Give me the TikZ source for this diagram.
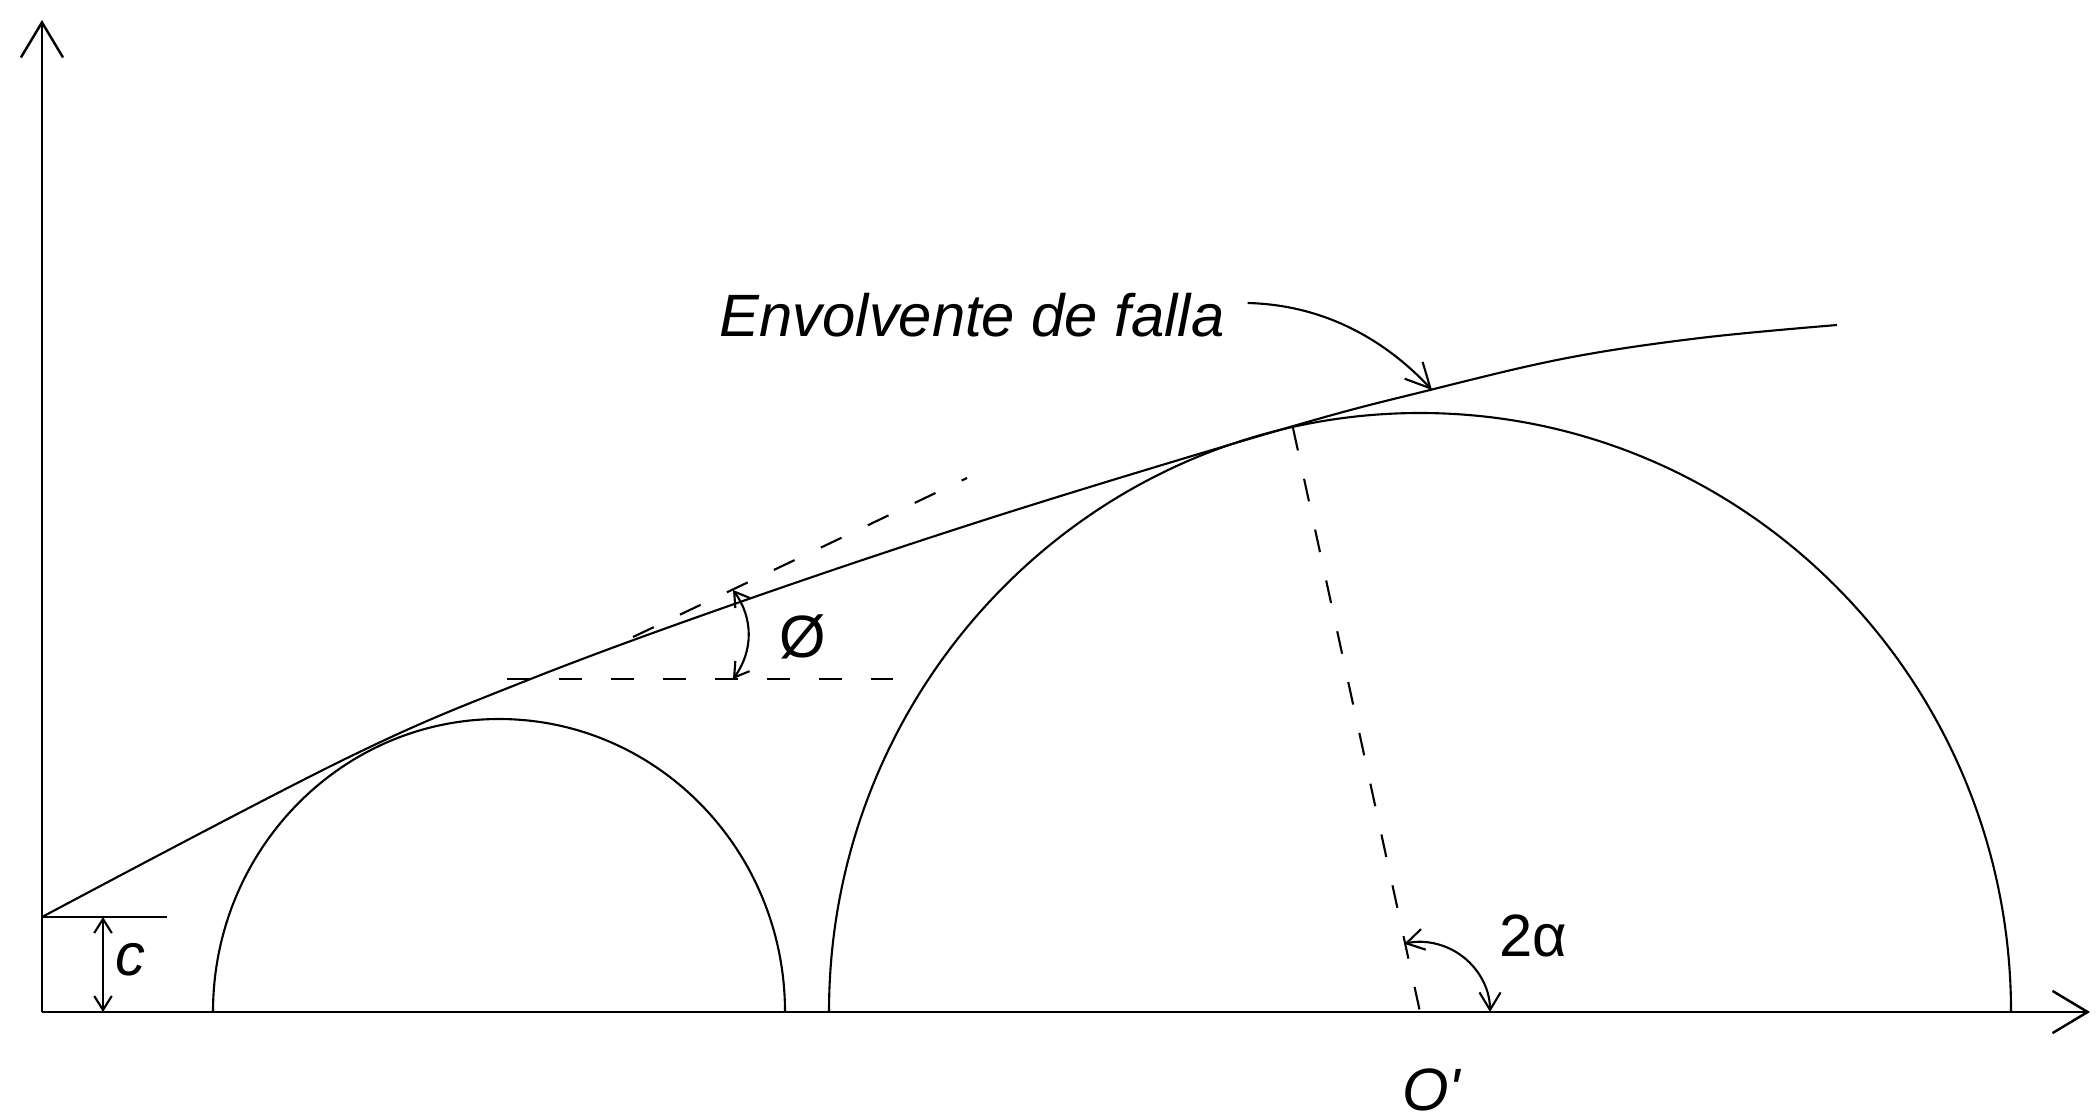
\documentclass[tikz,border=0pt]{standalone}
\usepackage{fontspec}
\setmainfont{Liberation Sans}
\usetikzlibrary{arrows.meta,positioning}
\newcommand{\lblsize}{\fontsize{17}{20}\selectfont}

\begin{document}
\begin{tikzpicture}[line width=0.6pt,
    dashline/.style={dash pattern=on 0.23cm off 0.29cm},
    lbl/.style={font=\lblsize, inner sep=2pt},
    axisarrow/.style={-{Straight Barb[length=10pt,width=12pt]}},
    dimarrow/.style={{Straight Barb[length=4pt,width=5pt]}-{Straight Barb[length=4pt,width=5pt]}}]
    \useasboundingbox (-0.42,-1.07) rectangle (20.55,10.12);

    % Axes
    \coordinate (O) at (0,0);
    \coordinate (xend) at (20.48,0);
    \coordinate (yend) at (0,9.92);
    \draw[axisarrow, line width=0.7pt] (O) -- (xend);
    \draw[axisarrow, line width=0.7pt] (O) -- (yend);

    % Cohesion c
    \coordinate (c0) at (0,0.95);
    \coordinate (c1) at (1.25,0.95);
    \draw (c0) -- (c1);
    \draw[dimarrow] (0.61,0) -- (0.61,0.95);
    \node[lbl, font=\lblsize\itshape] (clbl) at (0.88,0.52) {c};

    % Mohr circles
    \draw (1.71,0) arc[start angle=180, end angle=0, x radius=2.86, y radius=2.93];
    \draw (7.87,0) arc[start angle=180, end angle=0, x radius=5.91, y radius=5.99];

    % Failure envelope
    \draw plot[smooth, tension=0.6] coordinates {(0,0.95) (3.01,2.52) (4.81,3.30)
        (6.98,4.10) (9.58,4.97) (12.48,5.85) (13.88,6.22) (15.25,6.54) (16.58,6.74)
        (17.95,6.87)};

    % Friction angle
    \coordinate (h0) at (4.65,3.33);
    \coordinate (h1) at (8.51,3.33);
    \coordinate (t0) at (5.91,3.75);
    \coordinate (t1) at (9.25,5.34);
    \draw[dashline] (h0) -- (h1);
    \draw[dashline] (t0) -- (t1);
    \coordinate (phiA) at (6.91,3.33);
    \coordinate (phiB) at (6.91,4.22);
    \draw[dimarrow] (phiA) to[bend right=36] (phiB);
    \node[lbl] (phi) at (7.61,3.75) {Ø};

    % Radius to tangent point and angle 2 alpha
    \coordinate (Op) at (13.78,0);
    \coordinate (tp) at (12.51,5.84);
    \draw[dashline] (tp) -- (Op);
    \draw[{Straight Barb[length=5pt,width=6pt]}-{Straight Barb[length=5pt,width=6pt]}]
        (14.48,0) arc[start angle=0, end angle=103, radius=0.70];
    \node[lbl] (alpha) at (14.91,0.76) {2α};
    \node[lbl, font=\lblsize\itshape] (Oplbl) at (13.89,-0.78) {O\textquotesingle};

    % Envelope label
    \node[lbl, font=\lblsize\itshape] (env) at (9.30,6.97) {Envolvente de falla};
    \coordinate (envpt) at (13.90,6.22);
    \draw[-{Straight Barb[length=7pt,width=7pt]}] ([xshift=0.15cm,yshift=0.12cm]env.east)
        .. controls (12.88,7.07) and (13.48,6.67) .. (envpt);
\end{tikzpicture}
\end{document}
